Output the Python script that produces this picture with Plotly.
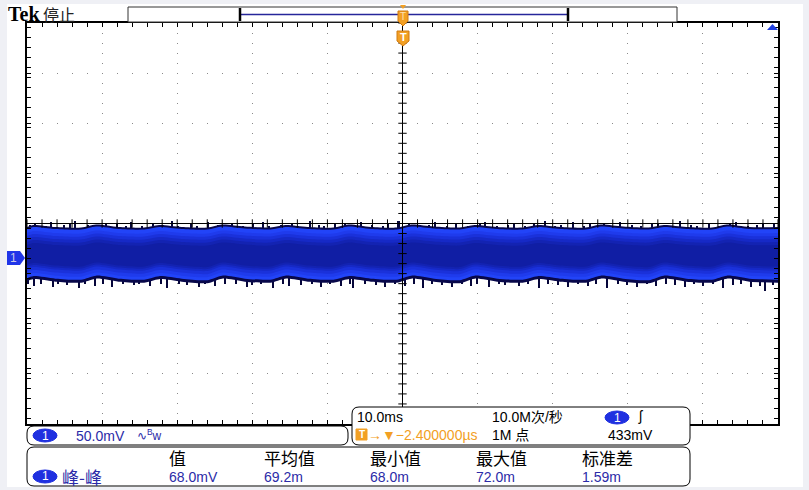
import plotly.graph_objects as go

# ch1: 50 mV/div, ground marker 0.69 div below centre; timebase 10 ms/div
env_t = [-50.0,
         -49.2, -46.2, -42.8, -40.8, -37.8, -34.4, -32.4, -29.4, -26.0,
         -24.0, -21.0, -17.6, -15.6, -12.6, -9.2, -7.2, -4.2, -0.8,
         1.2, 4.2, 7.6, 9.6, 12.6, 16.0, 18.0, 21.0, 24.4,
         26.4, 29.4, 32.8, 34.8, 37.8, 41.2, 43.2, 46.2,
         50.0]
env_top = [31,
           33, 31, 30.5, 33.5, 31, 30.5, 33, 31, 30.5,
           33.5, 31.5, 30.5, 33, 31, 30.5, 33.5, 31, 30.5,
           33.5, 31.5, 30.5, 33, 31, 30.5, 33, 31, 30.5,
           33.5, 31.5, 30.5, 33, 31, 30.5, 33.5, 31,
           31]
env_bot = [-23,
           -21, -23.5, -24.5, -20.5, -23.5, -24.5, -21, -23.5, -25,
           -20.5, -23.5, -24.5, -20.5, -23.5, -24.5, -21, -23.5, -24.5,
           -20.5, -23.5, -25, -20.5, -23.5, -24.5, -21, -23.5, -24.5,
           -20.5, -23.5, -25, -20.5, -23.5, -24.5, -20.5, -23.5,
           -24.5]

spike_up_t = [-49.6, -48.9, -47.5, -46.8, -45.1, -44.3, -43.6, -41.9, -40.2, -39.5,
              -38.0, -36.8, -36.1, -34.6, -33.2, -31.9, -30.6, -29.8, -28.1, -27.3,
              -25.9, -24.6, -23.3, -22.7, -21.2, -19.9, -18.5, -17.8, -16.2, -14.7,
              -13.9, -12.3, -11.1, -10.4, -8.9, -7.6, -6.2, -5.5, -4.0, -2.6,
              -1.9, -0.5, 0.9, 2.1, 3.6, 4.4, 5.9, 7.2, 8.8, 10.3,
              11.0, 12.6, 14.1, 14.9, 16.3, 17.5, 19.0, 20.4, 21.1, 22.8,
              24.2, 25.0, 26.9, 28.3, 29.0, 30.6, 31.8, 33.3, 34.1, 35.7,
              37.0, 38.4, 39.3, 40.9, 42.2, 43.7, 44.5, 46.0, 47.3, 48.1,
              49.5]
spike_up_v = [33, 35, 32, 36, 33, 34, 37, 33, 32, 35,
              34, 32, 36, 32, 35, 33, 37, 32, 34, 32,
              36, 33, 32, 35, 32, 34, 36, 32, 33, 35,
              32, 37, 33, 32, 35, 34, 32, 36, 33, 32,
              35, 37, 34, 32, 33, 36, 32, 35, 32, 34,
              36, 32, 33, 35, 32, 34, 37, 32, 33, 36,
              32, 35, 34, 32, 36, 33, 32, 35, 34, 32,
              37, 33, 32, 35, 32, 34, 36, 32, 33, 35,
              34]
spike_dn_t = [-49.8, -49.0, -48.1, -46.5, -45.8, -44.6, -43.0, -42.3, -40.9, -39.8,
              -38.6, -37.2, -35.7, -35.0, -33.6, -32.1, -31.3, -29.7, -28.6, -27.0,
              -26.3, -24.9, -23.6, -22.2, -20.7, -20.0, -18.8, -17.2, -15.9, -15.1,
              -13.5, -12.0, -10.8, -9.6, -8.2, -7.0, -6.5, -4.9, -3.5, -2.3,
              -1.0, 0.3, 1.6, 2.8, 3.9, 5.3, 6.6, 7.9, 9.1, 10.0,
              11.5, 12.9, 13.7, 15.5, 16.8, 18.2, 19.4, 20.7, 22.1, 23.4,
              24.7, 25.8, 27.3, 28.7, 29.9, 31.2, 32.6, 33.8, 35.1, 36.3,
              37.6, 38.9, 40.1, 41.4, 42.7, 44.0, 45.1, 46.4, 47.6, 48.3,
              49.4]
spike_dn_v = [-26, -28, -26, -29, -26, -27, -30, -26, -28, -26,
              -29, -26, -27, -26, -28, -26, -30, -26, -27, -29,
              -26, -28, -26, -26, -29, -27, -26, -30, -26, -28,
              -27, -26, -29, -26, -28, -26, -30, -26, -27, -29,
              -26, -28, -26, -30, -26, -27, -29, -26, -28, -26,
              -29, -26, -27, -28, -26, -30, -26, -27, -29, -26,
              -28, -26, -30, -26, -27, -29, -26, -28, -26, -27,
              -29, -26, -28, -26, -30, -27, -26, -29, -28, -33,
              -27]

ch1_scale = "50.0mV"
timebase = "10.0ms"
sample_rate = "10.0M次/秒"
trig_pos = "−2.400000µs"
rec_len = "1M 点"
trig_level = "433mV"
meas_name = "峰-峰"
meas_headers = ["值", "平均值", "最小值", "最大值", "标准差"]
meas_values = ["68.0mV", "69.2m", "68.0m", "72.0m", "1.59m"]

X_RANGE = [-50, 50]
Y_RANGE = [-165.5, 234.5]
Y_MID = 34.5

SANS = "Liberation Sans, Noto Sans CJK SC, sans-serif"
CJK = "Noto Sans CJK SC, sans-serif"
BLUE_TXT = "#2b2ba8"
ORANGE = "#f2a024"
BADGE = "#1f30e0"

# pixel -> paper helpers (plot area is 27..778 x 23..424)
PL, PR, PT, PB = 27, 778, 23, 424
def fx(p): return (p - PL) / (PR - PL)
def fy(p): return (PB - p) / (PB - PT)

fig = go.Figure()

# noise spikes sit under the band
fig.add_trace(go.Bar(x=spike_up_t, y=spike_up_v, base=0, width=0.2,
                     marker=dict(color="#06063a", line_width=0)))
fig.add_trace(go.Bar(x=spike_dn_t, y=spike_dn_v, base=0, width=0.2,
                     marker=dict(color="#06063a", line_width=0)))

# intensity graded band: thin navy fringe -> bright edge -> darker core
layers = [(0, 0, "#08084a"), (2, 3, "#2244f8"), (6, 6, "#1f3bec"), (9, 9, "#1a31da"),
          (12, 12, "#1629c6"), (15, 14, "#1323b2"), (18, 16, "#101ea4")]
for ins_t, ins_b, col in layers:
    fig.add_trace(go.Scatter(x=env_t, y=[v - ins_t for v in env_top], mode="lines",
                             line=dict(width=0, shape="spline", smoothing=0.8),
                             hoverinfo="skip"))
    fig.add_trace(go.Scatter(x=env_t, y=[v + ins_b for v in env_bot], mode="lines",
                             line=dict(width=0, shape="spline", smoothing=0.8),
                             fill="tonexty", fillcolor=col, hoverinfo="skip"))

# crosshair ticks on centre lines
hx = [X_RANGE[0] + 2 * i for i in range(51)]
vy = [Y_RANGE[0] + 10 * i for i in range(41)]
fig.add_trace(go.Scatter(x=hx, y=[Y_MID] * len(hx), mode="markers", hoverinfo="skip",
                         marker=dict(symbol="line-ns", size=6, line=dict(width=1, color="black"))))
fig.add_trace(go.Scatter(x=[0] * len(vy), y=vy, mode="markers", hoverinfo="skip",
                         marker=dict(symbol="line-ew", size=6, line=dict(width=1, color="black"))))

shapes = []
ann = []

def note(x, y, text, size=14, color="black", family=SANS, xanchor="left"):
    ann.append(dict(x=fx(x), y=fy(y), xref="paper", yref="paper", text=text, showarrow=False,
                    xanchor=xanchor, yanchor="middle",
                    font=dict(size=size, color=color, family=family)))

def poly(pts, fill, line="rgba(0,0,0,0)", w=0):
    d = "M " + " L ".join(f"{fx(a)},{fy(b)}" for a, b in pts) + " Z"
    shapes.append(dict(type="path", path=d, xref="paper", yref="paper",
                       fillcolor=fill, line=dict(color=line, width=w), layer="above"))

def rrect(x0, y0, x1, y1, r, fill="white", line="black", w=1):
    d = (f"M {fx(x0 + r)},{fy(y0)} L {fx(x1 - r)},{fy(y0)} Q {fx(x1)},{fy(y0)} {fx(x1)},{fy(y0 + r)} "
         f"L {fx(x1)},{fy(y1 - r)} Q {fx(x1)},{fy(y1)} {fx(x1 - r)},{fy(y1)} "
         f"L {fx(x0 + r)},{fy(y1)} Q {fx(x0)},{fy(y1)} {fx(x0)},{fy(y1 - r)} "
         f"L {fx(x0)},{fy(y0 + r)} Q {fx(x0)},{fy(y0)} {fx(x0 + r)},{fy(y0)} Z")
    shapes.append(dict(type="path", path=d, xref="paper", yref="paper",
                       fillcolor=fill, line=dict(color=line, width=w), layer="above"))

def line(x0, y0, x1, y1, col="black", w=1):
    shapes.append(dict(type="line", xref="paper", yref="paper", x0=fx(x0), y0=fy(y0),
                       x1=fx(x1), y1=fy(y1), line=dict(color=col, width=w), layer="above"))

def badge(cx, cy, wd=24, ht=13):
    shapes.append(dict(type="circle", xref="paper", yref="paper", x0=fx(cx - wd / 2), x1=fx(cx + wd / 2),
                       y0=fy(cy + ht / 2), y1=fy(cy - ht / 2), fillcolor=BADGE,
                       line=dict(color=BADGE, width=1), layer="above"))
    note(cx, cy, "1", size=12, color="white", xanchor="center")

# page frame
shapes.append(dict(type="rect", xref="paper", yref="paper", x0=fx(7), x1=fx(803), y0=fy(487), y1=fy(4),
                   fillcolor="white", line_width=0, layer="below"))

# centre lines
shapes.append(dict(type="line", xref="x", yref="y", x0=0, x1=0, y0=Y_RANGE[0], y1=Y_RANGE[1],
                   line=dict(color="black", width=1), layer="above"))
shapes.append(dict(type="line", xref="x", yref="y", x0=X_RANGE[0], x1=X_RANGE[1], y0=Y_MID, y1=Y_MID,
                   line=dict(color="black", width=1), layer="above"))

# record view bar
shapes.append(dict(type="rect", xref="paper", yref="paper", x0=fx(128), x1=fx(677), y0=fy(22), y1=fy(7),
                   fillcolor="white", line=dict(color="#333333", width=1), layer="above"))
line(240, 14.5, 568, 14.5, col="#26269a", w=1.5)
line(240, 8, 240, 21, w=2.5)
line(568, 8, 568, 21, w=2.5)

# trigger position markers
poly([(400, 5), (406, 5), (403, 9)], ORANGE)
poly([(398, 11), (408, 11), (408, 21), (403, 26), (398, 21)], ORANGE, "#d07a10", 1)
note(403, 16.5, "T", size=10, color="#ffe2b0", xanchor="center")
poly([(397, 31), (409, 31), (409, 41), (403, 46), (397, 41)], ORANGE, "#d07a10", 1)
note(403, 37, "<b>T</b>", size=11, color="white", xanchor="center")

# trigger level arrow, top right
poly([(772.5, 24), (778, 30), (767, 30)], "#1f3fe0")

# ch1 ground marker
poly([(7, 251), (20, 251), (25, 258), (20, 265), (7, 265)], "#2035e8")
note(13.5, 258, "1", size=12, color="#c8c8e8", xanchor="center")

# header text
note(6, 14, "<b>Tek</b>", size=20, family="Liberation Serif, serif")
note(41, 14.5, "停止", size=16, color="#222222", family=CJK)

# bottom panels
rrect(27, 426, 348, 445, 7)
rrect(352, 407, 690, 445, 7)
rrect(27, 447, 690, 486, 7)

badge(45, 435.5)
note(74, 435.5, ch1_scale, color=BLUE_TXT)
note(135, 434.5, "∿<sup>B</sup>w", size=12, color=BLUE_TXT)

note(355, 417, timebase)
shapes.append(dict(type="rect", xref="paper", yref="paper", x0=fx(356), x1=fx(367), y0=fy(440), y1=fy(429),
                   fillcolor=ORANGE, line=dict(color=ORANGE, width=1), layer="above"))
note(361.5, 434.5, "<b>T</b>", size=10, color="white", xanchor="center")
note(366, 434.5, "→▼" + trig_pos, color=ORANGE)
note(490, 417, sample_rate)
note(490, 434.5, rec_len)
badge(617, 417.5)
note(636, 416, "ʃ", size=14)
note(606, 434.5, trig_level)

badge(45, 476.5)
note(60, 476.5, meas_name, size=17, color=BLUE_TXT, family=CJK)
cols = [167, 262, 368, 474, 580]
for cx, hd, val in zip(cols, meas_headers, meas_values):
    note(cx, 457.5, hd, size=17, family=CJK)
    note(cx, 477, val, color=BLUE_TXT)

fig.update_layout(
    width=809, height=490,
    margin=dict(l=27, r=31, t=23, b=66, pad=0),
    paper_bgcolor="#eff0f5", plot_bgcolor="white",
    showlegend=False, barmode="overlay", bargap=0,
    shapes=shapes, annotations=ann,
    xaxis=dict(range=X_RANGE, dtick=10, tick0=-50, showgrid=True, gridcolor="#8a8a8a",
               griddash="1px,9px", gridwidth=1, zeroline=False, showticklabels=False,
               ticks="inside", ticklen=4, tickcolor="black",
               minor=dict(dtick=2, ticks="inside", ticklen=4, tickcolor="black", showgrid=False),
               showline=True, linecolor="black", linewidth=2, mirror="ticks", fixedrange=True),
    yaxis=dict(range=Y_RANGE, dtick=50, tick0=Y_MID, showgrid=True, gridcolor="#8a8a8a",
               griddash="1px,14px", gridwidth=1, zeroline=False, showticklabels=False,
               ticks="inside", ticklen=4, tickcolor="black",
               minor=dict(dtick=10, ticks="inside", ticklen=4, tickcolor="black", showgrid=False),
               showline=True, linecolor="black", linewidth=2, mirror="ticks", fixedrange=True),
)

# page has no body margin so the figure sits at the window corner
fig.write_html("out.html", config={"displayModeBar": False},
               post_script="document.body.style.margin='0px';")
